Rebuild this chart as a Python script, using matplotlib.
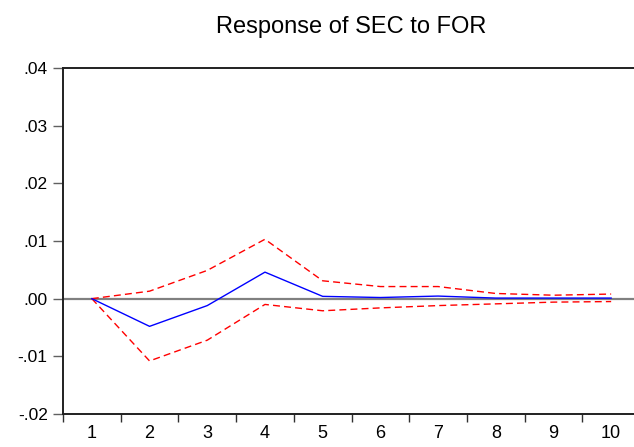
import matplotlib.pyplot as plt

plt.rcParams['font.family'] = ['Liberation Sans', 'DejaVu Sans']

# impulse response of SEC to a FOR shock, 10 periods, with +/- 2 s.e. bands
periods = [1, 2, 3, 4, 5, 6, 7, 8, 9, 10]
response = [0.0, -0.0048, -0.0012, 0.0046, 0.0004, 0.0002, 0.00045, 0.0001, 0.0001, 0.0001]
upper = [0.0, 0.0013, 0.0049, 0.0103, 0.0031, 0.0021, 0.0021, 0.0009, 0.0006, 0.0008]
lower = [0.0, -0.0108, -0.0072, -0.0010, -0.0021, -0.0016, -0.0012, -0.0009, -0.0006, -0.0005]
yticks = [-0.02, -0.01, 0.0, 0.01, 0.02, 0.03, 0.04]
ylabels = ['-.02', '-.01', '.00', '.01', '.02', '.03', '.04']

fig = plt.figure(figsize=(6.34, 4.47), dpi=100)
# axes runs a little past the right edge of the figure
ax = fig.add_axes([63 / 634, 33 / 447, 577 / 634, 346 / 447])

ax.axhline(0, color='#808080', lw=1.6, zorder=1)
ax.plot(periods, upper, color='red', lw=1.0, ls=(0, (5, 3)), zorder=2)
ax.plot(periods, lower, color='red', lw=1.0, ls=(0, (5, 3)), zorder=2)
ax.plot(periods, response, color='blue', lw=1.0, zorder=3)

ax.set_xlim(0.5, 10.5)
ax.set_ylim(-0.02, 0.04)

# tick marks between periods, labels centred on each period
ax.set_xticks([p - 0.5 for p in periods])
ax.set_xticklabels([])
ax.set_xticks(periods, minor=True)
ax.set_xticklabels([str(p) for p in periods], minor=True, fontsize=13)
ax.tick_params(axis='x', which='major', direction='out', length=6, width=1, color='#303030')
ax.tick_params(axis='x', which='minor', length=0, pad=8)

ax.set_yticks(yticks)
ax.set_yticklabels(ylabels, fontsize=12.5)
ax.tick_params(axis='y', direction='out', length=7, width=1, color='#606060', pad=4)

ax.spines['right'].set_visible(False)
for side in ['left', 'top', 'bottom']:
    ax.spines[side].set_linewidth(1.4)
    ax.spines[side].set_color('#202020')

ax.set_title('Response of SEC to FOR', fontsize=17, pad=25)

fig.savefig('out.png', dpi=100)
